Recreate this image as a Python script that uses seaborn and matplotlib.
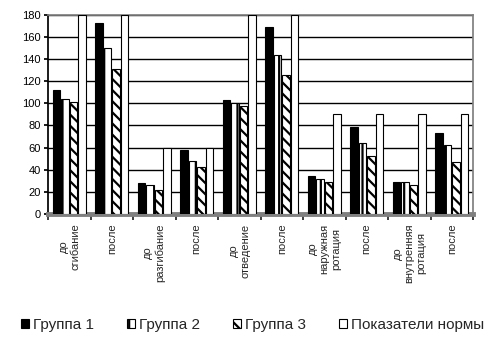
import matplotlib
matplotlib.use("Agg")
import matplotlib.pyplot as plt
import seaborn as sns
import pandas as pd
import numpy as np

categories = ["до\nсгибание", "после", "до\nразгибание", "после", "до\nотведение",
              "после", "до\nнаружная\nротация", "после", "до\nвнутренняя\nротация", "после"]
groups = ["Группа 1", "Группа 2", "Группа 3", "Показатели нормы"]
group1 = [112, 173, 28, 58, 103, 169, 34, 79, 29, 73]
group2 = [104, 150, 26, 48, 100, 144, 32, 64, 29, 62]
group3 = [101, 131, 22, 42, 98, 126, 29, 52, 26, 47]
norm = [180, 180, 60, 60, 180, 180, 90, 90, 90, 90]

rows = []
for g, vals in zip(groups, [group1, group2, group3, norm]):
    for i, v in enumerate(vals):
        rows.append({"cat": i, "group": g, "val": v})
df = pd.DataFrame(rows)

sns.set_theme(style="white")
plt.rcParams["font.family"] = ["Liberation Sans", "DejaVu Sans"]
plt.rcParams["hatch.linewidth"] = 1.6

fig = plt.figure(figsize=(5, 3.5), dpi=100)
ax = fig.add_axes([0.096, 0.389, 0.85, 0.568])

palette = {"Группа 1": "black", "Группа 2": "white", "Группа 3": "white", "Показатели нормы": "white"}
sns.barplot(data=df, x="cat", y="val", hue="group", palette=palette, width=0.8, gap=0.12,
            edgecolor="black", linewidth=0.8, ax=ax, legend=False, zorder=3)

# stripes for the white groups
hatches = [None, "||", "\\\\\\", None]
for cont, h in zip(ax.containers, hatches):
    for p in cont:
        if h:
            p.set_hatch(h)

ax.set_ylim(0, 180)
ax.set_xlim(-0.5, len(categories) - 0.5)
ax.set_yticks(range(0, 181, 20))
ax.yaxis.grid(True, color="black", linewidth=1, zorder=0)
ax.set_axisbelow(True)
ax.tick_params(axis="y", labelsize=8, left=True, length=3, pad=2, colors="black")

ax.set_xticks(np.arange(-0.5, len(categories), 1))
ax.set_xticklabels([])
ax.tick_params(axis="x", bottom=True, length=4, direction="out")
ax.set_xticks(range(len(categories)), minor=True)
ax.set_xticklabels(categories, minor=True, rotation=90, fontsize=8,
                   ha="center", va="top", multialignment="center")
ax.tick_params(axis="x", which="minor", length=0, pad=7)
ax.set_xlabel("")
ax.set_ylabel("")

for s in ["top", "right"]:
    ax.spines[s].set_color("grey")
ax.spines["left"].set_color("black")
ax.spines["bottom"].set_color("grey")
ax.spines["bottom"].set_linewidth(3.5)

fig.legend(ax.containers, groups, loc="center", bbox_to_anchor=(0.505, 0.071), ncol=4,
           frameon=False, fontsize=11, handlelength=0.5, handleheight=0.5,
           handletextpad=0.25, columnspacing=2.2)

fig.savefig("out.png", dpi=100)
